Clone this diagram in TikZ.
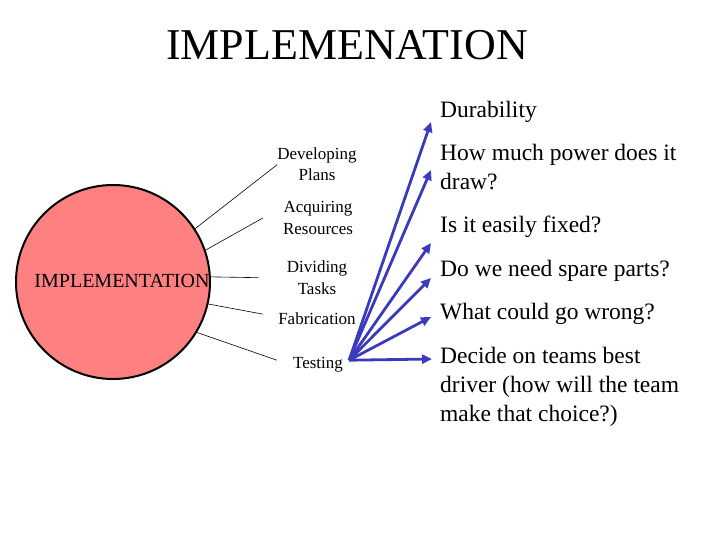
\documentclass[tikz,border=0pt]{standalone}
\usepackage{fontspec}
\setmainfont{Liberation Serif}
\usetikzlibrary{arrows.meta}
\definecolor{salmon}{RGB}{255,128,128}
\definecolor{rayblue}{RGB}{58,58,190}

\begin{document}
\begin{tikzpicture}[x=1pt, y=-1pt,
  lbl/.style={inner sep=0pt, anchor=base, align=center, font=\fontsize{17}{21}\selectfont},
  item/.style={inner sep=0pt, anchor=base west, align=left, font=\fontsize{23.5}{29}\selectfont},
  spoke/.style={line width=0.6pt},
  ray/.style={line width=2.8pt, rayblue, -{Triangle[length=10pt,width=9pt]}}]
\useasboundingbox (0,0) rectangle (720,540);
% -- title --
\node[inner sep=0pt, anchor=base, font=\fontsize{44}{50}\selectfont] (title) at (347,60) {IMPLEMENATION};
% -- the circle --
\node[circle, draw, line width=2pt, fill=salmon, minimum size=194pt, inner sep=0pt] (impl) at (113,282) {};
\node[inner sep=0pt, anchor=base, font=\fontsize{20}{24}\selectfont] (impltext) at (122,287) {IMPLEMENTATION};
% -- stages (base = last line) --
\node[lbl] (dev) at (317,181) {Developing\\Plans};
\node[lbl] (acq) at (318,234) {Acquiring\\Resources};
\node[lbl] (div) at (317,294) {Dividing\\Tasks};
\node[lbl] (fab) at (317,324) {Fabrication};
\node[lbl] (test) at (318,368) {Testing};
\draw[spoke] (impl.33) -- (dev.west);
\draw[spoke] (impl.19) -- ([xshift=-20pt]acq.west);
\draw[spoke] (impl.3) -- ([xshift=-28pt]div.west);
\draw[spoke] (impl.-13) -- ([xshift=-15pt,yshift=4pt]fab.west);
\draw[spoke] (impl.-31) -- ([xshift=-16pt,yshift=4pt]test.west);
% -- questions --
\node[item] (dur) at (440,118) {Durability};
\node[item] (power) at (440,190) {How much power does it\\draw?};
\node[item] (fix) at (440,233) {Is it easily fixed?};
\node[item] (spare) at (440,276) {Do we need spare parts?};
\node[item] (wrong) at (440,319) {What could go wrong?};
\node[item] (driver) at (440,421) {Decide on teams best\\driver (how will the team\\make that choice?)};
% -- arrows --
\coordinate (src) at ([xshift=6pt,yshift=4pt]test.east);
\coordinate (t1) at (431,122);
\coordinate (t2) at (431,170);
\coordinate (t3) at (431,243);
\coordinate (t4) at (431,278);
\coordinate (t5) at (431,317);
\coordinate (t6) at (432,359);
\foreach \t in {t1,t2,t3,t4,t5,t6}
  \draw[ray] (src) -- (\t);
\end{tikzpicture}
\end{document}
